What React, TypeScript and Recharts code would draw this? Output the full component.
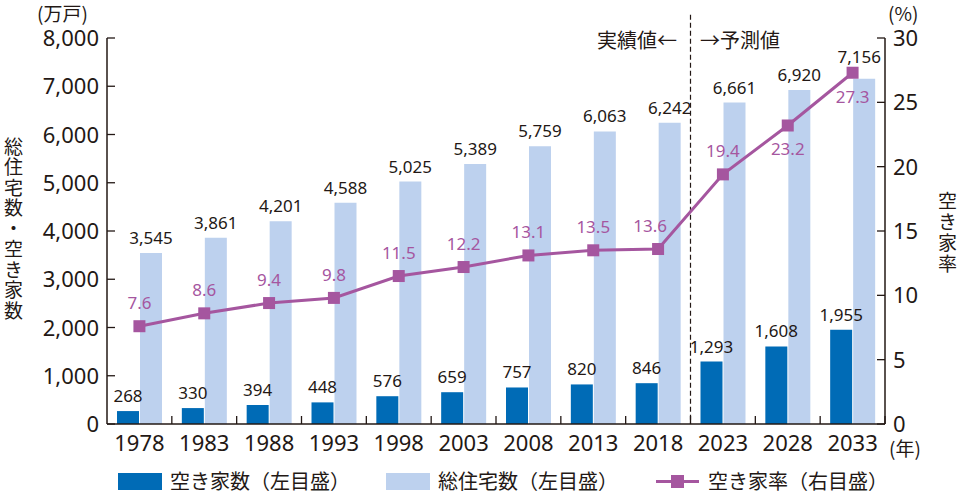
import React from 'react';
import {
  ComposedChart,
  Bar,
  Line,
  XAxis,
  YAxis,
  LabelList,
  ReferenceLine,
} from 'recharts';

const years = ['1978', '1983', '1988', '1993', '1998', '2003', '2008', '2013', '2018', '2023', '2028', '2033'];
const vacantHouses = [268, 330, 394, 448, 576, 659, 757, 820, 846, 1293, 1608, 1955];
const totalHouses = [3545, 3861, 4201, 4588, 5025, 5389, 5759, 6063, 6242, 6661, 6920, 7156];
const vacancyRate = [7.6, 8.6, 9.4, 9.8, 11.5, 12.2, 13.1, 13.5, 13.6, 19.4, 23.2, 27.3];
const leftTicks = [0, 1000, 2000, 3000, 4000, 5000, 6000, 7000, 8000];
const rightTicks = [0, 5, 10, 15, 20, 25, 30];
const lastActualYear = '2018';
const rateLabelsBelow = ['2028', '2033'];

const data = years.map((year, i) => ({
  year,
  vacant: vacantHouses[i],
  total: totalHouses[i],
  rate: vacancyRate[i],
}));

const W = 961;
const H = 494;
const LEFT_W = 107;
const RIGHT_W = 76;
const TOP = 38;
const X_H = 30;
const BOTTOM = 40;
const PLOT_BOTTOM = H - BOTTOM - X_H;
const BAND = (W - LEFT_W - RIGHT_W) / years.length;

const INK = '#231815';
const DARK_BLUE = '#006bb6';
const LIGHT_BLUE = '#bdd1ee';
const PURPLE = '#a5569f';
const FONT = "'Noto Sans', 'Noto Sans CJK JP', sans-serif";
const JP = "'Noto Sans CJK JP', sans-serif";

const fmt = (v: number) => v.toLocaleString('en-US');

function LeftTick({ x, y, payload }: any) {
  return (
    <g>
      <line x1={x + 8} x2={x + 16} y1={y} y2={y} stroke={INK} strokeWidth={1.3} />
      <text x={x} y={y} dy={8} textAnchor="end" fill={INK} fontSize={22} fontFamily={FONT}>
        {fmt(payload.value)}
      </text>
    </g>
  );
}

function RightTick({ x, y, payload }: any) {
  return (
    <g>
      <line x1={x - 8} x2={x - 16} y1={y} y2={y} stroke={INK} strokeWidth={1.3} />
      <text x={x} y={y} dy={8} textAnchor="start" fill={INK} fontSize={22} fontFamily={FONT}>
        {payload.value}
      </text>
    </g>
  );
}

function YearTick({ x, y, payload }: any) {
  const bx = x + BAND / 2;
  return (
    <g>
      <line x1={bx} x2={bx} y1={PLOT_BOTTOM} y2={PLOT_BOTTOM - 8} stroke={INK} strokeWidth={1.3} />
      <text x={x} y={y} dy={27} textAnchor="middle" fill={INK} fontSize={22} fontFamily={FONT}>
        {payload.value}
      </text>
    </g>
  );
}

function pos(props: any) {
  const vb = props.viewBox || {};
  const x = props.x ?? vb.x;
  const y = props.y ?? vb.y;
  const width = props.width ?? vb.width ?? 0;
  return { x, y, width };
}

function BarValueLabel(props: any) {
  const { x, y, width } = pos(props);
  const last = props.index === years.length - 1 && props.raiseLast;
  return (
    <text
      x={x + width / 2 + (last ? -5 : 0)}
      y={y - (last ? 16 : 9)}
      textAnchor="middle"
      fill={INK}
      fontSize={17}
      fontFamily={FONT}
    >
      {fmt(props.value)}
    </text>
  );
}

function RateLabel(props: any) {
  const { x, y } = pos(props);
  const year = years[props.index];
  const below = rateLabelsBelow.includes(year);
  // the last actual value sits left of the steep rise, as in the source
  const dx = year === lastActualYear ? -8 : 0;
  return (
    <text
      x={x + dx}
      y={below ? y + 30 : y - 17}
      textAnchor="middle"
      fill={PURPLE}
      fontSize={17}
      fontFamily={FONT}
    >
      {props.value}
    </text>
  );
}

function SquareDot(props: any) {
  const { cx, cy, index } = props;
  return <rect key={`dot-${index}`} x={cx - 6} y={cy - 6} width={12} height={12} fill={PURPLE} />;
}

const abs = (left: number, top: number, extra: React.CSSProperties = {}): React.CSSProperties => ({
  position: 'absolute',
  left,
  top,
  fontFamily: JP,
  fontSize: 20,
  lineHeight: 1,
  color: INK,
  whiteSpace: 'nowrap',
  ...extra,
});

const unit: React.CSSProperties = { fontSize: 19, lineHeight: '17px' };

export default function App() {
  return (
    <div style={{ position: 'absolute', left: 0, top: 0, width: W, height: H, background: '#fff' }}>
      <ComposedChart
        width={W}
        height={H}
        data={data}
        margin={{ top: TOP, right: 0, bottom: BOTTOM, left: 0 }}
        barGap={1}
      >
        <XAxis
          dataKey="year"
          height={X_H}
          tickSize={0}
          tickMargin={0}
          tickLine={false}
          axisLine={{ stroke: INK, strokeWidth: 1.5 }}
          tick={<YearTick />}
          interval={0}
        />
        <YAxis
          yAxisId="left"
          width={LEFT_W}
          domain={[0, 8000]}
          ticks={leftTicks}
          tickSize={0}
          tickMargin={8}
          tickLine={false}
          axisLine={{ stroke: INK, strokeWidth: 1.5 }}
          tick={<LeftTick />}
          interval={0}
        />
        <YAxis
          yAxisId="right"
          orientation="right"
          width={RIGHT_W}
          domain={[0, 30]}
          ticks={rightTicks}
          tickSize={0}
          tickMargin={8}
          tickLine={false}
          axisLine={{ stroke: INK, strokeWidth: 1.5 }}
          tick={<RightTick />}
          interval={0}
        />
        <Bar yAxisId="left" dataKey="vacant" fill={DARK_BLUE} barSize={22} isAnimationActive={false}>
          <LabelList dataKey="vacant" content={<BarValueLabel />} />
        </Bar>
        <Bar yAxisId="left" dataKey="total" fill={LIGHT_BLUE} barSize={22} isAnimationActive={false}>
          <LabelList dataKey="total" content={<BarValueLabel raiseLast />} />
        </Bar>
        <ReferenceLine
          yAxisId="left"
          segment={[
            { x: lastActualYear, y: 8480 },
            { x: lastActualYear, y: 0 },
          ]}
          position="end"
          ifOverflow="visible"
          stroke={INK}
          strokeWidth={1.2}
          strokeDasharray="5 3"
        />
        <Line
          yAxisId="right"
          dataKey="rate"
          stroke={PURPLE}
          strokeWidth={3}
          dot={SquareDot}
          activeDot={false}
          isAnimationActive={false}
        >
          <LabelList dataKey="rate" content={<RateLabel />} />
        </Line>
      </ComposedChart>

      <div style={abs(37, 4, unit)}>(万戸)</div>
      <div style={abs(888, 4, unit)}>(%)</div>
      <div style={abs(889, 439, unit)}>(年)</div>
      <div style={abs(597, 30)}>実績値←</div>
      <div style={abs(700, 30)}>→予測値</div>
      <div style={abs(4, 137, { writingMode: 'vertical-rl', textOrientation: 'upright', fontSize: 19, letterSpacing: 1.5 })}>
        総住宅数・空き家数
      </div>
      <div style={abs(938, 191, { writingMode: 'vertical-rl', textOrientation: 'upright', fontSize: 19, letterSpacing: 2 })}>
        空き家率
      </div>

      <div style={{ position: 'absolute', left: 118, top: 473, width: 44, height: 17, background: DARK_BLUE }} />
      <div style={abs(170, 471)}>空き家数（左目盛）</div>
      <div style={{ position: 'absolute', left: 386, top: 473, width: 44, height: 17, background: LIGHT_BLUE }} />
      <div style={abs(438, 471)}>総住宅数（左目盛）</div>
      <div style={{ position: 'absolute', left: 656, top: 480, width: 43, height: 3, background: PURPLE }} />
      <div style={{ position: 'absolute', left: 671, top: 475, width: 13, height: 13, background: PURPLE }} />
      <div style={abs(708, 471)}>空き家率（右目盛）</div>
    </div>
  );
}
